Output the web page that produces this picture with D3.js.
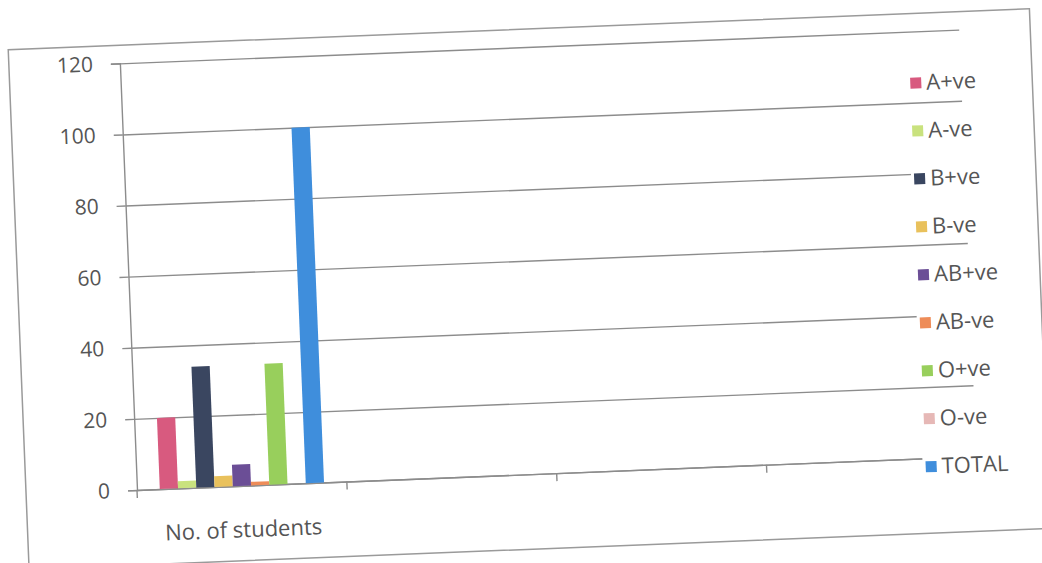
<!DOCTYPE html>
<html>
<head>
<meta charset="utf-8">
<script src="https://cdn.jsdelivr.net/npm/d3@7"></script>
<style>
  html, body { margin: 0; padding: 0; background: #fff; }
  svg { display: block; }
</style>
</head>
<body>
<div id="chart"></div>
<script>
// dados
const categorias = ["No. of students", "", "", ""];
const grupos = ["A+ve", "A-ve", "B+ve", "B-ve", "AB+ve", "AB-ve", "O+ve", "O-ve", "TOTAL"];
const alunos = [20, 2, 34, 3, 6, 1, 34, 0, 100];
const cores = ["#d85a7f", "#c9e27e", "#3a4660", "#e9c15c", "#6b4e96", "#ee8c58", "#98cf5c", "#e6b8b6", "#3f8edc"];
const ticksY = [0, 20, 40, 60, 80, 100, 120];

const width = 1042;
const height = 563;
const margin = { top: 63, right: 65, bottom: 73, left: 137 };
const innerWidth = width - margin.left - margin.right;
const innerHeight = height - margin.top - margin.bottom;
const fonte = "'Open Sans', 'Noto Sans', sans-serif";
const cinza = "#8c8c8c";

const svg = d3
  .select("#chart")
  .append("svg")
  .attr("width", width)
  .attr("height", height);

// a foto esta levemente girada
const root = svg
  .append("g")
  .attr("transform", "rotate(-2.3," + margin.left + "," + (margin.top + innerHeight) + ")");

// borda externa do grafico
root
  .append("rect")
  .attr("x", 26)
  .attr("y", 45)
  .attr("width", 1022)
  .attr("height", 520)
  .attr("fill", "none")
  .attr("stroke", "#9a9a9a")
  .attr("stroke-width", 1.5);

const g = root
  .append("g")
  .attr("transform", "translate(" + margin.left + "," + margin.top + ")");

const y = d3.scaleLinear().domain([0, 120]).range([innerHeight, 0]);

const x = d3
  .scaleBand()
  .domain(d3.range(categorias.length))
  .range([0, innerWidth]);

const xSerie = d3
  .scaleBand()
  .domain(grupos)
  .range([0, x.bandwidth()])
  .paddingInner(0)
  .paddingOuter(1.25);

// linhas de grade
g.append("g")
  .call(d3.axisLeft(y).tickValues(ticksY).tickSize(-innerWidth).tickFormat(""))
  .call((sel) => sel.select(".domain").remove())
  .selectAll("line")
  .attr("stroke", cinza)
  .attr("stroke-width", 1.4);

// eixo y
const eixoY = g
  .append("g")
  .call(d3.axisLeft(y).tickValues(ticksY).tickSize(9).tickPadding(18));

eixoY.select(".domain").attr("stroke", cinza).attr("stroke-width", 1.4);
eixoY.selectAll(".tick line").attr("stroke", cinza).attr("stroke-width", 1.4);
eixoY
  .selectAll("text")
  .attr("font-family", fonte)
  .attr("font-size", 21)
  .attr("fill", "#555");

// eixo x
const eixoX = g
  .append("g")
  .attr("transform", "translate(0," + innerHeight + ")")
  .call(
    d3
      .axisBottom(x)
      .tickSize(0)
      .tickPadding(36)
      .tickFormat((i) => categorias[i]),
  );

eixoX.select(".domain").attr("stroke", cinza).attr("stroke-width", 1.4);
eixoX.selectAll("text").filter((i) => !categorias[i]).remove();
eixoX
  .selectAll("text")
  .attr("font-family", fonte)
  .attr("font-size", 22)
  .attr("fill", "#555");

eixoX
  .selectAll(".divisao")
  .data(d3.range(categorias.length + 1))
  .enter()
  .append("line")
  .attr("class", "divisao")
  .attr("x1", (i) => (i < categorias.length ? x(i) : innerWidth))
  .attr("x2", (i) => (i < categorias.length ? x(i) : innerWidth))
  .attr("y1", 0)
  .attr("y2", 8)
  .attr("stroke", cinza)
  .attr("stroke-width", 1.4);

// barras
g.append("g")
  .attr("transform", "translate(" + x(0) + ",0)")
  .selectAll("rect")
  .data(grupos)
  .enter()
  .append("rect")
  .attr("x", (d) => xSerie(d))
  .attr("width", xSerie.bandwidth())
  .attr("y", (d, i) => y(alunos[i]))
  .attr("height", (d, i) => y(0) - y(alunos[i]))
  .attr("fill", (d, i) => cores[i]);

// legenda
const legenda = root
  .append("g")
  .selectAll("g")
  .data(grupos)
  .enter()
  .append("g")
  .attr("transform", (d, i) => "translate(926," + (114 + i * 48) + ")");

legenda
  .append("rect")
  .attr("x", -3)
  .attr("y", -15)
  .attr("width", 100)
  .attr("height", 30)
  .attr("fill", "#fff");

legenda
  .append("rect")
  .attr("x", 0)
  .attr("y", -5)
  .attr("width", 11)
  .attr("height", 11)
  .attr("fill", (d, i) => cores[i]);

legenda
  .append("text")
  .attr("x", 16)
  .attr("dy", "0.35em")
  .attr("font-family", fonte)
  .attr("font-size", 22)
  .attr("fill", "#555")
  .text((d) => d);
</script>
</body>
</html>
